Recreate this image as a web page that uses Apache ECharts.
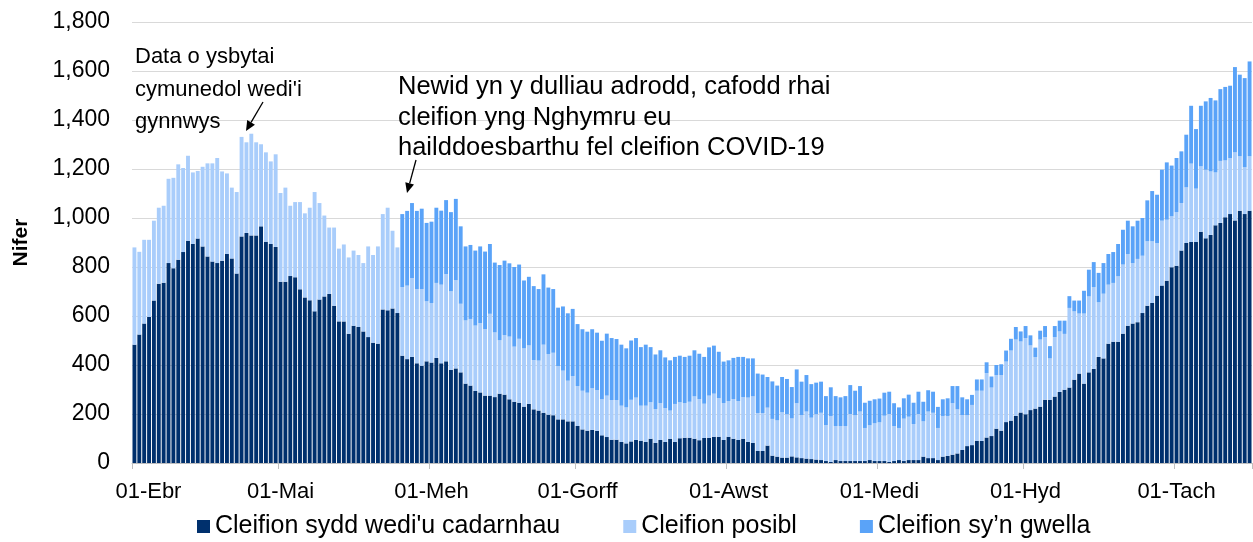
<!DOCTYPE html>
<html><head><meta charset="utf-8">
<script src="https://cdn.jsdelivr.net/npm/echarts@6/dist/echarts.min.js"></script>
<style>html,body{margin:0;padding:0;background:#fff}#c{width:1253px;height:542px}</style>
</head><body><div id="c"></div>
<script>
var monthNames = ["Ebr","Mai","Meh","Gorff","Awst","Medi","Hyd","Tach"];
var monthDays = [30,31,30,31,31,30,31,16];
var seriesNames = ["Cleifion sydd wedi'u cadarnhau","Cleifion posibl","Cleifion sy\u2019n gwella"];

var confirmed = [483,524,569,596,663,732,736,816,795,830,861,907,894,916,884,843,822,816,826,853,835,773,925,939,929,929,966,903,894,882,
740,740,763,758,709,676,664,619,667,680,690,642,578,578,528,560,555,537,514,491,487,627,623,631,612,438,424,433,407,397,415,
410,429,407,415,380,386,370,324,316,294,288,275,275,269,283,279,260,250,246,230,241,219,214,205,197,195,178,178,170,170,
151,137,132,135,131,113,106,95,95,86,80,88,94,91,86,99,82,94,86,99,86,101,103,103,99,93,102,103,107,107,94,
107,99,94,99,86,82,49,49,71,30,26,22,22,27,23,20,18,16,14,12,8,4,12,8,8,8,8,8,8,12,8,8,
8,4,8,12,8,12,12,12,26,20,20,12,26,29,34,39,53,69,73,90,90,104,110,140,132,167,173,192,206,
199,216,222,230,258,258,271,290,299,308,340,365,324,370,384,433,427,487,495,495,528,560,569,575,612,642,653,683,724,744,799,
805,867,898,902,902,944,917,931,970,980,1003,1016,990,1030,1016,1030];

var possible = [397,338,342,315,326,310,314,344,369,389,343,347,292,276,325,380,401,429,364,329,289,333,406,370,415,380,335,365,337,378,
362,384,287,307,356,343,378,487,394,330,271,319,297,314,311,307,294,279,370,358,397,389,419,317,268,280,300,322,303,313,245,
243,306,321,356,321,360,280,258,272,267,283,272,334,264,218,243,256,225,261,238,239,201,204,278,248,255,218,199,166,185,
163,158,155,170,167,147,169,162,162,148,147,170,173,143,148,149,138,151,138,115,155,147,142,147,173,168,140,172,176,158,151,
146,162,159,170,181,190,155,155,155,150,148,185,177,155,221,176,192,169,185,193,147,188,139,143,143,192,187,202,135,142,154,158,
185,196,143,131,173,177,147,188,144,190,185,131,166,163,210,180,143,126,164,205,205,263,198,219,227,247,286,312,290,
311,264,210,274,256,169,243,247,228,325,279,245,286,310,334,223,264,241,240,267,282,293,247,258,234,263,252,215,265,249,208,
219,194,227,320,218,267,280,259,216,253,232,229,278,222,191,222];

var recovering = [0,0,0,0,0,0,0,0,0,0,0,0,0,0,0,0,0,0,0,0,0,0,0,0,0,0,0,0,0,0,
0,0,0,0,0,0,0,0,0,0,0,0,0,0,0,0,0,0,0,0,0,0,0,0,0,298,305,306,319,328,320,
332,307,302,302,323,332,316,302,302,306,313,316,285,285,307,304,299,325,303,277,280,302,292,287,271,260,238,262,275,274,
253,251,249,241,234,239,253,253,249,249,241,242,243,239,249,225,223,215,207,205,192,190,188,188,188,185,191,197,196,189,169,
166,168,180,164,160,155,161,157,125,153,142,144,144,128,138,136,149,137,129,127,118,117,122,117,122,118,100,104,103,100,98,97,
94,91,93,84,83,90,87,91,80,87,86,86,68,72,70,95,72,65,41,46,46,44,45,41,44,45,48,51,41,
49,41,39,36,45,50,45,44,54,48,44,53,93,109,102,120,125,125,126,132,142,136,150,156,154,167,205,197,208,234,207,
221,211,215,236,243,247,279,300,294,293,300,295,348,333,364,387];

var categories = [];
var monthStartIdx = [];
for (var m = 0; m < monthNames.length; m++) {
  monthStartIdx.push(categories.length);
  for (var d = 1; d <= monthDays[m]; d++) {
    categories.push((d < 10 ? '0' + d : '' + d) + '-' + monthNames[m]);
  }
}
var isMonthStart = function (i) { return monthStartIdx.indexOf(i) >= 0; };

var colors = ['#00306D', '#A9CDFB', '#5AA3F8'];
var FONT = 'Liberation Sans, Arial, sans-serif';

function arrow(x1, y1, x2, y2) {
  var dx = x2 - x1, dy = y2 - y1, L = Math.sqrt(dx*dx + dy*dy);
  var ux = dx / L, uy = dy / L, px = -uy, py = ux, h = 10, w = 4.5;
  var bx = x2 - ux*h, by = y2 - uy*h;
  return [
    {type:'line', shape:{x1:x1,y1:y1,x2:bx,y2:by}, style:{stroke:'#000', lineWidth:1.3}, z:100},
    {type:'polygon', shape:{points:[[x2,y2],[bx+px*w,by+py*w],[bx-px*w,by-py*w]]}, style:{fill:'#000'}, z:100}
  ];
}

var chart = echarts.init(document.getElementById('c'), null, {renderer:'canvas'});
var mk = function (name, data, color) {
  return {name:name, type:'bar', stack:'t', data:data, barCategoryGap:'20%',
    itemStyle:{color:color}, emphasis:{disabled:true}, animation:false};
};
chart.setOption({
  animation:false,
  textStyle:{fontFamily:FONT},
  grid:{left:132, right:1, top:22, bottom:79, containLabel:false},
  legend:{top:514, left:197, padding:0, itemWidth:13, itemHeight:13, itemGap:63, icon:'rect',
    textStyle:{fontSize:25, color:'#000', fontFamily:FONT}, data:seriesNames},
  xAxis:{type:'category', data:categories, boundaryGap:true,
    axisLine:{lineStyle:{color:'#BFBFBF'}},
    axisTick:{show:true, interval:function(i){return isMonthStart(i);}, length:6, lineStyle:{color:'#BFBFBF'}},
    axisLabel:{interval:function(i){return isMonthStart(i);}, fontSize:22, color:'#000', margin:18, fontFamily:FONT,
      formatter:function(v, i){return i === 0 ? '{f|' + v + '}' : v;},
      rich:{f:{fontSize:22, color:'#000', fontFamily:FONT, padding:[0,0,0,28]}}},
    splitLine:{show:false}},
  yAxis:{type:'value', min:0, max:1800, interval:200,
    name:'Nifer', nameLocation:'middle', nameGap:100, nameRotate:90,
    nameTextStyle:{fontSize:21, fontWeight:'bold', color:'#000', fontFamily:FONT},
    axisLine:{show:false}, axisTick:{show:false},
    axisLabel:{fontSize:23, color:'#000', margin:22, fontFamily:FONT,
      formatter:function(v){return v.toLocaleString('en-US');}},
    splitLine:{lineStyle:{color:'#D9D9D9', width:1}}},
  series:[mk(seriesNames[0], confirmed, colors[0]), mk(seriesNames[1], possible, colors[1]), mk(seriesNames[2], recovering, colors[2])],
  graphic:[].concat(
    [{type:'text', left:135, top:41, z:100, style:{text:"Data o ysbytai\ncymunedol wedi'i\ngynnwys", fontSize:22, lineHeight:32.5, fill:'#000', fontFamily:FONT}},
     {type:'text', left:398, top:72, z:100, style:{text:"Newid yn y dulliau adrodd, cafodd rhai\ncleifion yng Nghymru eu\nhailddoesbarthu fel cleifion COVID-19", fontSize:25.5, lineHeight:30.5, fill:'#000', fontFamily:FONT}}],
    arrow(263, 102, 246, 131),
    arrow(416, 160, 407, 193)
  )
});
</script></body></html>
